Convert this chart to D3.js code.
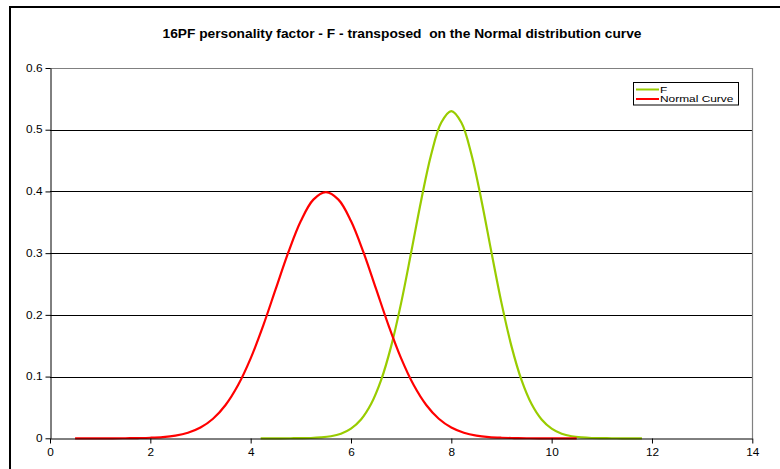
<!DOCTYPE html>
<html>
<head>
<meta charset="utf-8">
<script src="https://cdn.jsdelivr.net/npm/d3@7"></script>
<style>
  html, body { margin: 0; padding: 0; background: #fff; }
  svg { display: block; font-family: "Liberation Sans", Arial, sans-serif; }
  text { white-space: pre; }
</style>
</head>
<body>
<svg id="chart" width="780" height="469"></svg>
<script>
const chartTitle = "16PF personality factor - F - transposed  on the Normal distribution curve";
const xTicks = [0, 2, 4, 6, 8, 10, 12, 14];
const yTicks = [0, 0.1, 0.2, 0.3, 0.4, 0.5, 0.6];
const seriesNames = ["F", "Normal Curve"];
const seriesColors = ["#99cc00", "#ff0000"];

// Normal Curve (red) — x values and readings
const normalX = [0.5, 0.75, 1, 1.25, 1.5, 1.75, 2, 2.25, 2.5, 2.75, 3, 3.25, 3.5, 3.75, 4, 4.25, 4.5, 4.75, 5, 5.25, 5.5,
                 5.75, 6, 6.25, 6.5, 6.75, 7, 7.25, 7.5, 7.75, 8, 8.25, 8.5, 8.75, 9, 9.25, 9.5, 9.75, 10, 10.25, 10.5];
const normalY = [0.0000, 0.0000, 0.0000, 0.0000, 0.0001, 0.0004, 0.0009, 0.0020, 0.0044, 0.0091, 0.0175, 0.0317, 0.0540, 0.0863, 0.1295, 0.1826, 0.2420, 0.3011, 0.3521, 0.3867, 0.3989,
                 0.3867, 0.3521, 0.3011, 0.2420, 0.1826, 0.1295, 0.0863, 0.0540, 0.0317, 0.0175, 0.0091, 0.0044, 0.0020, 0.0009, 0.0004, 0.0001, 0.0000, 0.0000, 0.0000, 0.0000];

// F (green) — x values and readings
const fX = [4.2, 4.4, 4.6, 4.8, 5.0, 5.2, 5.4, 5.6, 5.8, 6.0, 6.2, 6.4, 6.6, 6.8, 7.0, 7.2, 7.4, 7.6, 7.8, 8.0,
            8.2, 8.4, 8.6, 8.8, 9.0, 9.2, 9.4, 9.6, 9.8, 10.0, 10.2, 10.4, 10.6, 10.8, 11.0, 11.2, 11.4, 11.6, 11.8];
const fY = [0.0000, 0.0000, 0.0000, 0.0001, 0.0002, 0.0005, 0.0014, 0.0033, 0.0074, 0.0156, 0.0304, 0.0554, 0.0941, 0.1489, 0.2194, 0.3014, 0.3858, 0.4602, 0.5116, 0.5300,
            0.5116, 0.4602, 0.3858, 0.3014, 0.2194, 0.1489, 0.0941, 0.0554, 0.0304, 0.0156, 0.0074, 0.0033, 0.0014, 0.0005, 0.0002, 0.0001, 0.0000, 0.0000, 0.0000];

const svg = d3.select("#chart");

function stretch(sel, factor) {
  sel.each(function () {
    const w = this.getComputedTextLength();
    d3.select(this).attr("textLength", w * factor).attr("lengthAdjust", "spacingAndGlyphs");
  });
}

// outer frame (left and top edges visible)
svg.append("line").attr("x1", 10).attr("y1", 7).attr("x2", 10).attr("y2", 469)
  .attr("stroke", "#000").attr("stroke-width", 2);
svg.append("line").attr("x1", 9).attr("y1", 7).attr("x2", 780).attr("y2", 7)
  .attr("stroke", "#000").attr("stroke-width", 2);

const pLeft = 50, pRight = 752.3, pTop = 68, pBottom = 438.3;
const x = d3.scaleLinear().domain([0, 14]).range([pLeft, pRight]);
const y = d3.scaleLinear().domain([0, 0.6]).range([pBottom, pTop]);

// title
const title = svg.append("text").attr("x", 402).attr("y", 37.5).attr("text-anchor", "middle")
  .attr("font-size", "13px").attr("font-weight", "bold").text(chartTitle);
title.attr("textLength", 479).attr("lengthAdjust", "spacingAndGlyphs");

// gridlines
svg.append("g").selectAll("line").data(yTicks.filter(d => d > 0 && d < 0.6)).join("line")
  .attr("x1", pLeft).attr("x2", pRight)
  .attr("y1", d => Math.round(y(d)) + 0.5).attr("y2", d => Math.round(y(d)) + 0.5)
  .attr("stroke", "#000").attr("stroke-width", 1);

// plot area top & right borders (grey)
svg.append("path")
  .attr("d", `M${pLeft},${Math.round(pTop) + 0.5}H${Math.round(pRight) + 0.5}V${pBottom}`)
  .attr("fill", "none").attr("stroke", "#808080").attr("stroke-width", 1.2);

// curves
const line = d3.line().x(d => x(d[0])).y(d => y(d[1])).curve(d3.curveCatmullRom.alpha(0.5));
const fData = fX.map((v, i) => [v, fY[i]]);
const nData = normalX.map((v, i) => [v, normalY[i]]);

svg.append("path").datum(fData).attr("d", line)
  .attr("fill", "none").attr("stroke", seriesColors[0]).attr("stroke-width", 2.2);
svg.append("path").datum(nData).attr("d", line)
  .attr("fill", "none").attr("stroke", seriesColors[1]).attr("stroke-width", 2.2);

// axes
const xAxis = d3.axisBottom(x).tickValues(xTicks).tickSize(5).tickSizeOuter(0).tickFormat(d3.format("d"));
const gx = svg.append("g").attr("transform", `translate(0,${Math.round(pBottom) + 0.5})`).call(xAxis);
gx.select(".domain").attr("stroke", "#000");
gx.selectAll(".tick line").attr("stroke", "#000");
gx.selectAll("text").attr("font-size", "10px").attr("fill", "#000").attr("y", 10).attr("dy", "0.71em")
  .attr("font-family", "Liberation Sans, Arial, sans-serif");
stretch(gx.selectAll("text"), 1.18);

const yAxis = d3.axisLeft(y).tickValues(yTicks).tickSize(5).tickSizeOuter(0)
  .tickFormat(d => d === 0 ? "0" : d3.format(".1f")(d));
const gy = svg.append("g").attr("transform", `translate(${pLeft + 0.5},0)`).call(yAxis);
gy.select(".domain").attr("stroke", "#000");
gy.selectAll(".tick line").attr("stroke", "#000");
gy.selectAll("text").attr("font-size", "10px").attr("fill", "#000").attr("x", -8)
  .attr("font-family", "Liberation Sans, Arial, sans-serif");
stretch(gy.selectAll("text"), 1.18);

// legend
const lg = svg.append("g");
lg.append("rect").attr("x", 633.5).attr("y", 82.5).attr("width", 105).attr("height", 22.5)
  .attr("fill", "#fff").attr("stroke", "#000").attr("stroke-width", 1);
seriesNames.forEach((name, i) => {
  const ly = 89.5 + i * 9.5;
  lg.append("line").attr("x1", 636).attr("x2", 659).attr("y1", ly).attr("y2", ly)
    .attr("stroke", seriesColors[i]).attr("stroke-width", 2);
  const t = lg.append("text").attr("x", 660).attr("y", ly + 3).attr("font-size", "8.4px").text(name);
  stretch(t, 1.42);
});
</script>
</body>
</html>
